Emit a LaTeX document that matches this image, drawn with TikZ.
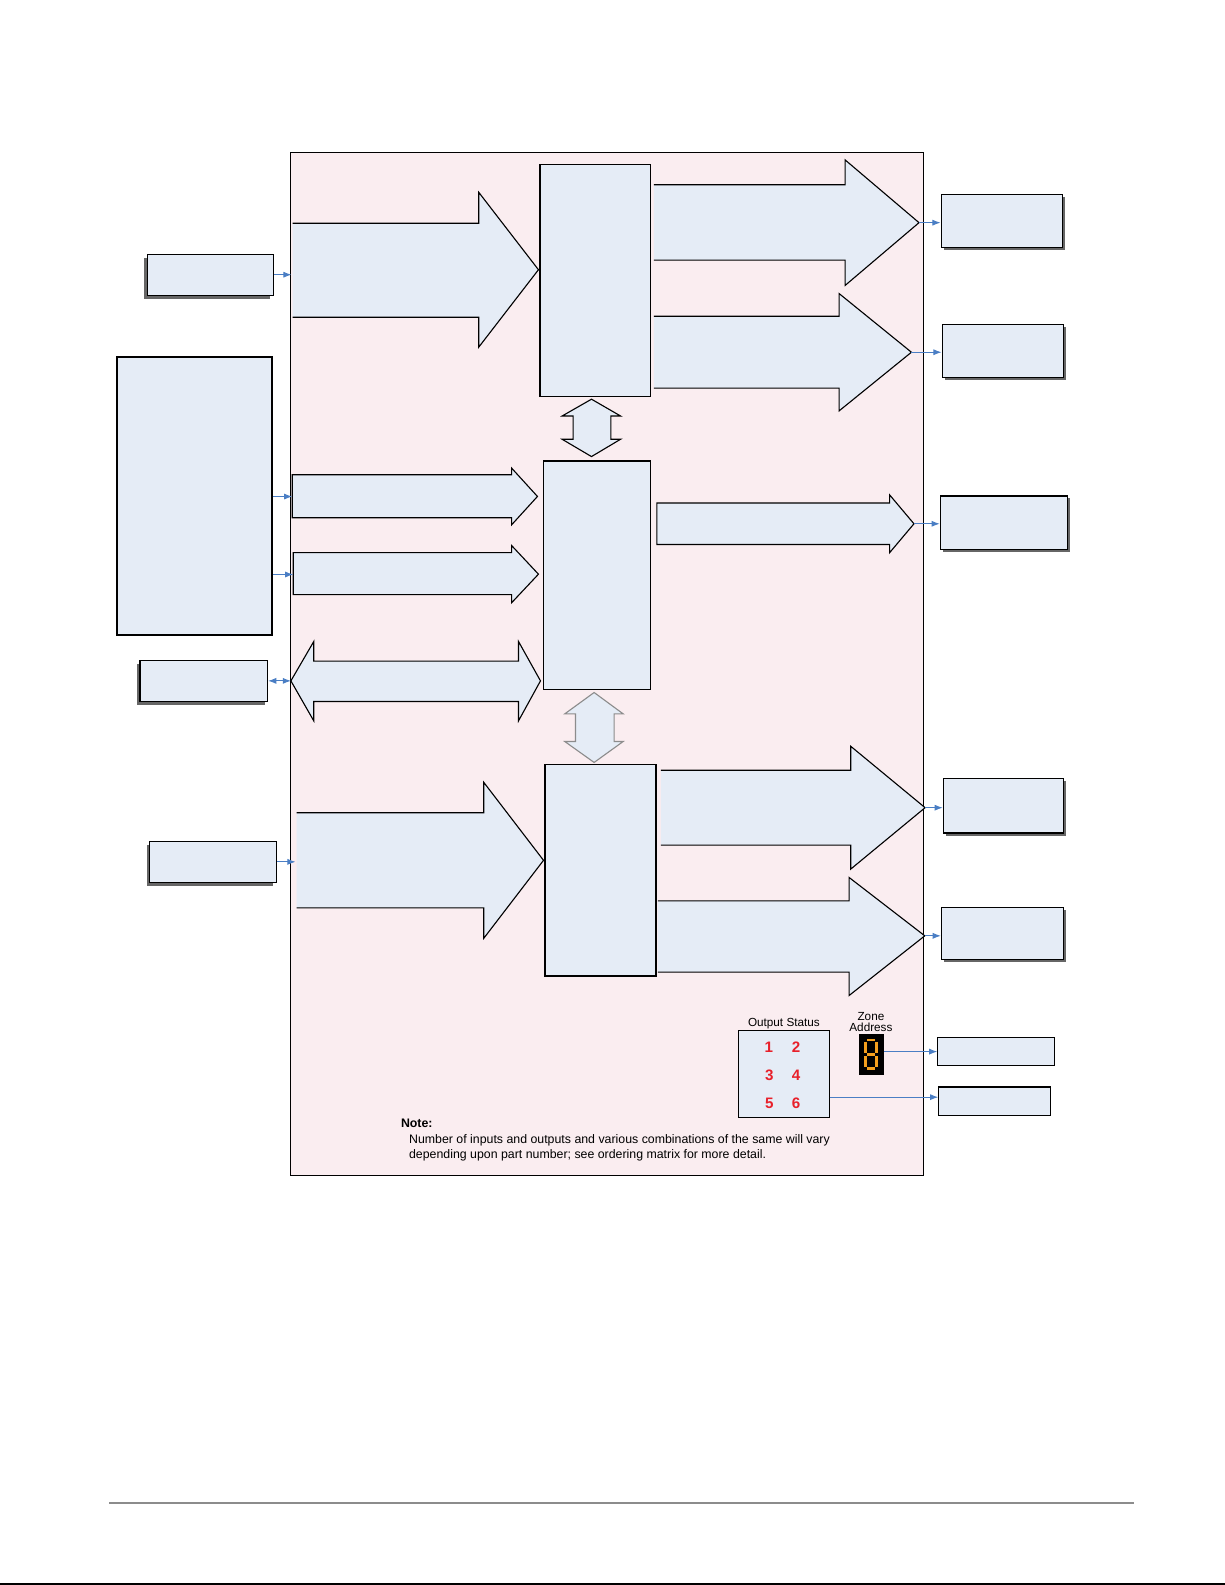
\documentclass[tikz,border=0pt]{standalone}
\usepackage{fontspec}
\setmainfont{Liberation Sans}
\usepackage{tikz}
\usetikzlibrary{arrows.meta,shadows}

\definecolor{boxblue}{RGB}{229,236,246}
\definecolor{panelpink}{RGB}{250,237,240}
\definecolor{linkblue}{RGB}{74,126,196}
\definecolor{segorange}{RGB}{245,160,30}
\definecolor{statred}{RGB}{232,32,42}

\begin{document}
\begin{tikzpicture}[x=1pt,y=-1pt,
      box/.style={draw, fill=boxblue, line width=1.1pt, inner sep=0pt},
      lshadow/.style={drop shadow={shadow xshift=-3pt, shadow yshift=-3.5pt, fill=black!60, opacity=1}},
      rshadow/.style={drop shadow={shadow xshift=2.5pt, shadow yshift=-2.5pt, fill=black!60, opacity=1}},
      flow/.style={draw, fill=boxblue, line width=1.1pt, line join=miter},
      link/.style={draw=linkblue, line width=0.9pt, -{Latex[length=8pt,width=6pt]}},
      lbl/.style={font=\fontsize{11.6}{11}\selectfont, inner sep=0pt},
      num/.style={font=\fontsize{15}{15}\selectfont\bfseries, text=statred, inner sep=0pt},
      notetext/.style={font=\fontsize{12.2}{15}\selectfont, inner sep=0pt, anchor=base west}]
      \useasboundingbox (0,0) rectangle (1210,1566);

      \filldraw[fill=panelpink, line width=0.9pt] (287,151) rectangle (912,1161);

      % left side
      \node[box, lshadow, minimum width=124.5, minimum height=40.4] (inA) at (207.75,271.4) {};
      \node[box, line width=1.8pt, minimum width=153, minimum height=274.5] (inBig) at (192.5,490.25) {};
      \node[box, lshadow, minimum width=126.1, minimum height=40.5] (ioC) at (201.35,672.45) {};
      \node[box, lshadow, minimum width=125, minimum height=41] (inD) at (210.5,851.5) {};

      % centre blocks
      \node[box, minimum width=109.2, minimum height=229.5] (procTop) at (588.1,277.05) {};
      \node[box, line width=1.4pt, minimum width=106, minimum height=226.1] (procMid) at (589.7,568.45) {};
      \node[box, line width=1.9pt, minimum width=109.7, minimum height=208.7] (procBot) at (593.15,859.65) {};

      % right side
      \node[box, rshadow, minimum width=119.9, minimum height=52.3] (outA) at (989.75,218.15) {};
      \node[box, rshadow, minimum width=119.9, minimum height=52.3] (outB) at (990.75,346.55) {};
      \node[box, rshadow, minimum width=126, minimum height=53] (outC) at (992,516.5) {};
      \node[box, rshadow, minimum width=119, minimum height=54] (outD) at (991.5,796) {};
      \node[box, rshadow, minimum width=120.9, minimum height=51.7] (outE) at (990.55,922.35) {};
      \node[box, minimum width=115.4, minimum height=28] (dispOut) at (984.3,1039) {};
      \node[box, minimum width=110.5, minimum height=28] (statOut) at (982.75,1088) {};

      % block arrows
      \filldraw[flow] (289,220.6) -- (473,220.6) -- (473,190) -- (532,266.5) coordinate (tipInTop)
        -- (473,343) -- (473,313.4) -- (289,313.4);
      \filldraw[flow] (646,182.5) -- (835,182.5) -- (835,158) -- (908,220) coordinate (tipOutA)
        -- (835,282) -- (835,257) -- (646,257);
      \filldraw[flow] (646,312.5) -- (829,312.5) -- (829,290) -- (900.5,348) coordinate (tipOutB)
        -- (829,406) -- (829,383.5) -- (646,383.5);
      \filldraw[flow] (288.7,469) -- (505.5,469) -- (505.5,462.5) -- (531,490.5)
        -- (505.5,518.5) -- (505.5,511.5) -- (288.7,511.5) -- cycle;
      \filldraw[flow] (289.7,546) -- (505.5,546) -- (505.5,539) -- (532,567.3)
        -- (505.5,595.5) -- (505.5,587.5) -- (289.7,587.5) -- cycle;
      \filldraw[flow] (649,497) -- (879,497) -- (879,489) -- (903,517.5) coordinate (tipOutC)
        -- (879,546) -- (879,538) -- (649,538) -- cycle;
      \filldraw[flow] (287.4,672.7) coordinate (tipBiL) -- (310,633.8) -- (310,653.2) -- (512.3,653.2)
        -- (512.3,633.8) -- (534,672.7) -- (512.3,712.2) -- (512.3,693.1) -- (310,693.1)
        -- (310,712.2) -- cycle;
      \filldraw[flow] (293,803) -- (478,803) -- (478,773) -- (537,850)
        -- (478,927) -- (478,897) -- (293,897);
      \filldraw[flow] (653,761) -- (840.5,761) -- (840.5,737.3) -- (914,798) coordinate (tipOutD)
        -- (840.5,858.7) -- (840.5,835) -- (653,835);
      \filldraw[flow] (650,890) -- (839,890) -- (839,867) -- (913.7,924.6) coordinate (tipOutE)
        -- (839,983.5) -- (839,960.4) -- (650,960.4);

      % up/down arrows between blocks
      \filldraw[flow] (584.4,394.4) -- (613.1,411) -- (603.5,411) -- (603.5,434) -- (613.1,434)
        -- (584.4,451.1) -- (555.4,434) -- (566.3,434) -- (566.3,411) -- (555.4,411) -- cycle;
      \filldraw[flow, draw=black!45] (587,684.2) -- (615.7,705.3) -- (606.8,705.3) -- (606.8,732.6)
        -- (615.7,732.6) -- (587,753.3) -- (558,732.6) -- (568.6,732.6) -- (568.6,705.3)
        -- (558,705.3) -- cycle;

      % connectors
      \coordinate (tailTop) at (288,271.4);
      \coordinate (tailMidA) at (288.7,490.6);
      \coordinate (tailMidB) at (289.7,567.6);
      \coordinate (tailBot) at (292,851.5);
      \draw[link] (inA) -- (tailTop);
      \draw[link] (inBig.east |- tailMidA) -- (tailMidA);
      \draw[link] (inBig.east |- tailMidB) -- (tailMidB);
      \draw[link, {Latex[length=8pt,width=6pt]}-{Latex[length=8pt,width=6pt]}] (ioC.east |- tipBiL) -- (tipBiL);
      \draw[link] (inD) -- (tailBot);
      \draw[link] (tipOutA) -- (tipOutA -| outA.west);
      \draw[link] (tipOutB) -- (tipOutB -| outB.west);
      \draw[link] (tipOutC) -- (tipOutC -| outC.west);
      \draw[link] (tipOutD) -- (tipOutD -| outD.west);
      \draw[link] (tipOutE) -- (tipOutE -| outE.west);

      % status panel
      \node[box, line width=0.9pt, minimum width=89.9, minimum height=85.6] (stat) at (774.25,1061.2) {};
      \node[lbl] (statLbl) at (774.5,1011) {Output Status};
      \node[num] (st1) at (759.5,1034.5) {1};
      \node[num] (st2) at (786.5,1034.5) {2};
      \node[num] (st3) at (760,1062.5) {3};
      \node[num] (st4) at (786.5,1062.5) {4};
      \node[num] (st5) at (760,1090.5) {5};
      \node[num] (st6) at (786.5,1090.5) {6};
      \node[lbl, align=center] (zoneLbl) at (860.5,1010) {Zone\\Address};
      \node[fill=black, inner sep=0pt, minimum width=24.5, minimum height=40] (seg) at (860.75,1042) {};
      \draw[segorange, line width=2.8pt]
        (856.8,1027.5) -- (864.2,1027.5)
        (856.8,1042) -- (864.2,1042)
        (856.8,1056) -- (864.2,1056)
        (855,1029.3) -- (855,1040.2)
        (866,1029.3) -- (866,1040.2)
        (855,1043.8) -- (855,1054.2)
        (866,1043.8) -- (866,1054.2);
      \coordinate (statIn) at ([yshift=4pt]statOut.west);
      \draw[link] (seg.east |- dispOut.west) -- (dispOut.west);
      \draw[link] (stat.east |- statIn) -- (statIn);

      \node[notetext, font=\fontsize{12.2}{15}\selectfont\bfseries] (noteHead) at (396,1114) {Note:};
      \node[notetext] (noteA) at (404,1129.5) {Number of inputs and outputs and various combinations of the same will vary};
      \node[notetext] (noteB) at (404,1144.5) {depending upon part number; see ordering matrix for more detail.};

      \draw[black!45, line width=1.4pt] (108,1485) -- (1120,1485);
      \fill[black] (0,1564) rectangle (1210,1566);
    \end{tikzpicture}
\end{document}
